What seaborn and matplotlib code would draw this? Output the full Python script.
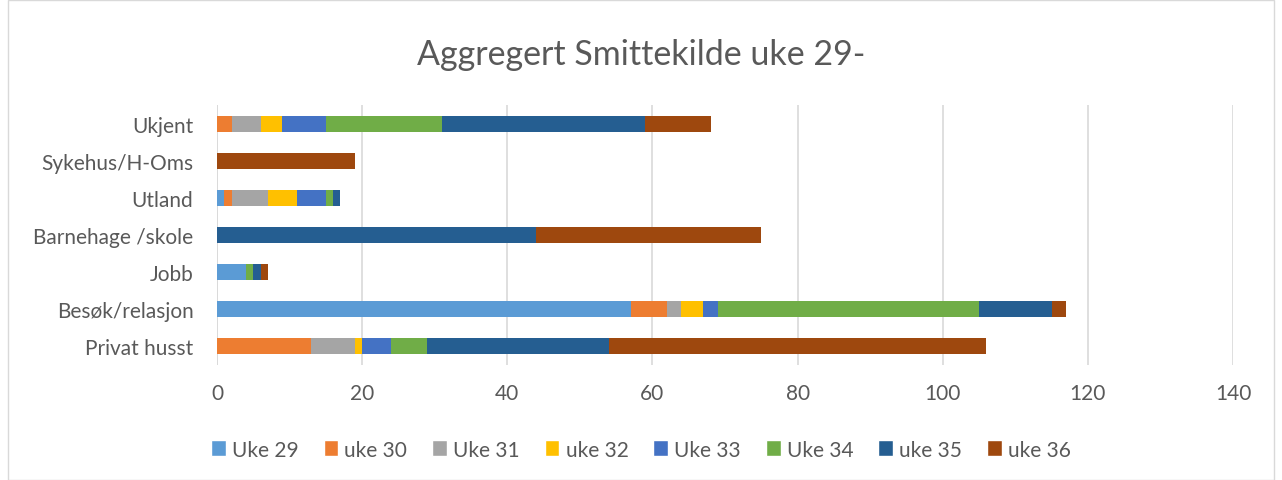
import numpy as np
import pandas as pd
import matplotlib
matplotlib.use("Agg")
import matplotlib.pyplot as plt
import seaborn as sns
from matplotlib.patches import Patch, Rectangle

categories = ["Ukjent", "Sykehus/H-Oms", "Utland", "Barnehage /skole",
              "Jobb", "Besøk/relasjon", "Privat husst"]
weeks = ["Uke 29", "uke 30", "Uke 31", "uke 32", "Uke 33", "Uke 34", "uke 35", "uke 36"]

uke29 = [0, 0, 1, 0, 4, 57, 0]
uke30 = [2, 0, 1, 0, 0, 5, 13]
uke31 = [4, 0, 5, 0, 0, 2, 6]
uke32 = [3, 0, 4, 0, 0, 3, 1]
uke33 = [6, 0, 4, 0, 0, 2, 4]
uke34 = [16, 0, 1, 0, 1, 36, 5]
uke35 = [28, 0, 1, 44, 1, 10, 25]
uke36 = [9, 19, 0, 31, 1, 2, 52]

colors = ["#5B9BD5", "#ED7D31", "#A5A5A5", "#FFC000",
          "#4472C4", "#70AD47", "#255E91", "#9E480E"]

series = [uke29, uke30, uke31, uke32, uke33, uke34, uke35, uke36]
df = pd.DataFrame(dict(zip(weeks, series)), index=categories)
cum = df.cumsum(axis=1)

sns.set_style("white")
plt.rcParams["font.family"] = ["Lato", "DejaVu Sans"]
text_col = "#595959"

fig = plt.figure(figsize=(12.82, 4.81), dpi=100)
ax = fig.add_axes([0.1693, 0.240, 0.7925, 0.539])

# stacked look: draw cumulative totals from the last series backwards
for w, c in reversed(list(zip(weeks, colors))):
    sns.barplot(x=cum[w].values, y=categories, color=c, width=0.42,
                orient="h", ax=ax, saturation=1, edgecolor="none")

ax.set_xlim(0, 140)
ax.set_xticks(range(0, 141, 20))
ax.grid(axis="x", color="#d9d9d9", linewidth=1.2)
ax.set_axisbelow(True)
for s in ax.spines.values():
    s.set_visible(False)
ax.axvline(0, color="#d9d9d9", linewidth=1.2, zorder=0.5)
ax.tick_params(axis="both", length=0, labelsize=15, colors=text_col)
ax.tick_params(axis="x", pad=13)
ax.tick_params(axis="y", pad=17)
ax.set_xlabel("")
ax.set_ylabel("")

fig.text(0.5, 0.886, "Aggregert Smittekilde uke 29-", ha="center", va="center",
         fontsize=24.5, color=text_col)

handles = [Patch(facecolor=c, label=w) for w, c in zip(weeks, colors)]
fig.legend(handles=handles, loc="center", bbox_to_anchor=(0.5, 0.063), ncol=8,
           frameon=False, fontsize=15, handlelength=0.7, handleheight=0.8,
           handletextpad=0.3, columnspacing=1.2, labelcolor=text_col)

fig.patches.append(Rectangle((0.006, 0.0), 0.988, 0.998, transform=fig.transFigure,
                             fill=False, edgecolor="#d9d9d9", linewidth=1))

fig.savefig("out.png", dpi=100)
